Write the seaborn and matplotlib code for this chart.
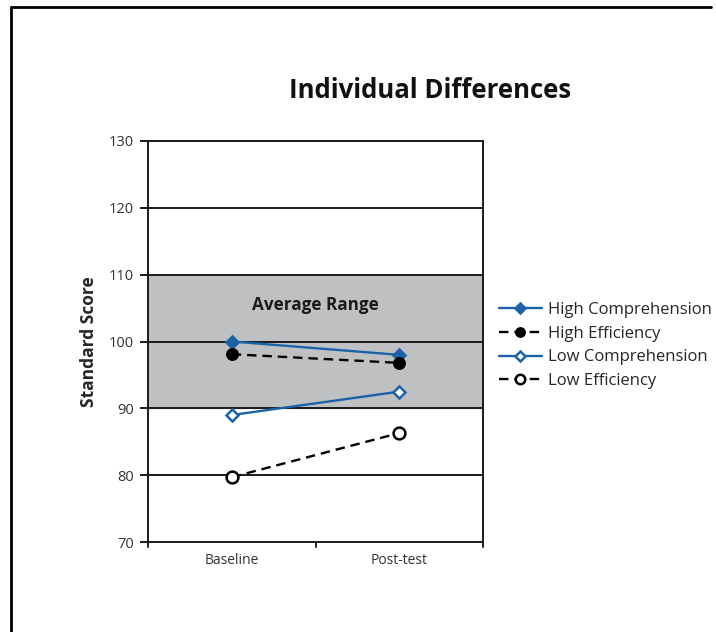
import matplotlib
matplotlib.use("Agg")
import matplotlib.pyplot as plt
import seaborn as sns
import pandas as pd
from matplotlib.lines import Line2D

sns.set_theme(style="white")
plt.rcParams['font.family'] = ['Open Sans', 'DejaVu Sans']

categories = ["Baseline", "Post-test"]
high_comprehension = [100.0, 98.0]
high_efficiency = [98.1, 96.8]
low_comprehension = [89.0, 92.5]
low_efficiency = [79.7, 86.3]
series_names = ["High Comprehension", "High Efficiency", "Low Comprehension", "Low Efficiency"]
y_ticks = [70, 80, 90, 100, 110, 120, 130]

BLUE = "#1b62a8"
styles = {
    "High Comprehension": dict(color=BLUE, ls="-", marker="D", mfc=BLUE, mec=BLUE, ms=6.5),
    "High Efficiency": dict(color="black", ls=(0, (4, 2.5)), marker="o", mfc="black", mec="black", ms=7.5),
    "Low Comprehension": dict(color=BLUE, ls="-", marker="D", mfc="white", mec=BLUE, ms=6.5),
    "Low Efficiency": dict(color="black", ls=(0, (4, 2.5)), marker="o", mfc="white", mec="black", ms=8.5),
}

values = [high_comprehension, high_efficiency, low_comprehension, low_efficiency]
rows = []
for name, vals in zip(series_names, values):
    for i, (c, v) in enumerate(zip(categories, vals)):
        rows.append({"series": name, "pos": i, "category": c, "score": v})
df = pd.DataFrame(rows)

fig = plt.figure(figsize=(7.16, 6.32), dpi=100)
ax = fig.add_axes([148/716, 1-542/632, (483-148)/716, (542-141)/632])

ax.axhspan(90, 110, color="#bfc0c2", zorder=0)
for y in [80, 90, 100, 110, 120]:
    ax.axhline(y, color="#1a1a1a", lw=1.4, zorder=1)

for name in series_names:
    st = styles[name]
    sns.lineplot(data=df[df.series == name], x="pos", y="score", ax=ax,
                 color=st["color"], linestyle=st["ls"], lw=1.7,
                 marker=st["marker"], markerfacecolor=st["mfc"],
                 markeredgecolor=st["mec"], markeredgewidth=1.8,
                 markersize=st["ms"], label=name, zorder=3)

ax.set_xlim(-0.5, 1.5)
ax.set_ylim(70, 130)
ax.set_yticks(y_ticks)
ax.set_yticklabels([str(t) for t in y_ticks], fontsize=10.5, color="#333333")
ax.set_xticks([0, 1])
ax.set_xticklabels(categories, fontsize=10, color="#333333")
ax.tick_params(axis="x", length=0, pad=8)
ax.tick_params(axis="y", length=6, width=1.4, color="#1a1a1a", direction="out", left=True, pad=4)
for xt in [-0.5, 0.5, 1.5]:
    ax.plot([xt, xt], [70, 69.2], color="#1a1a1a", lw=1.4, clip_on=False)
ax.set_xlabel("")
ax.set_ylabel("Standard Score", fontsize=12.5, fontweight="bold", labelpad=8)
for sp in ax.spines.values():
    sp.set_visible(True)
    sp.set_color("#1a1a1a")
    sp.set_linewidth(1.4)

ax.text(0.5, 105.4, "Average Range", ha="center", va="center", fontsize=12.3, fontweight="bold", color="#1a1a1a")

leg = ax.legend(loc="center left", bbox_to_anchor=(1.027, 0.49), frameon=False,
                fontsize=12, handlelength=2.6, handletextpad=0.35, labelspacing=0.47,
                borderaxespad=0, markerscale=0.8)

fig.text(430/716, 1-90/632, "Individual Differences", ha="center", va="center",
         fontsize=18.5, fontweight="bold", color="#111111")

fig.add_artist(Line2D([11/716, 711/716], [1-7/632, 1-7/632], color="black", lw=2))
fig.add_artist(Line2D([11/716, 11/716], [1-7/632, 0], color="black", lw=2))

fig.savefig("out.png", dpi=100)
